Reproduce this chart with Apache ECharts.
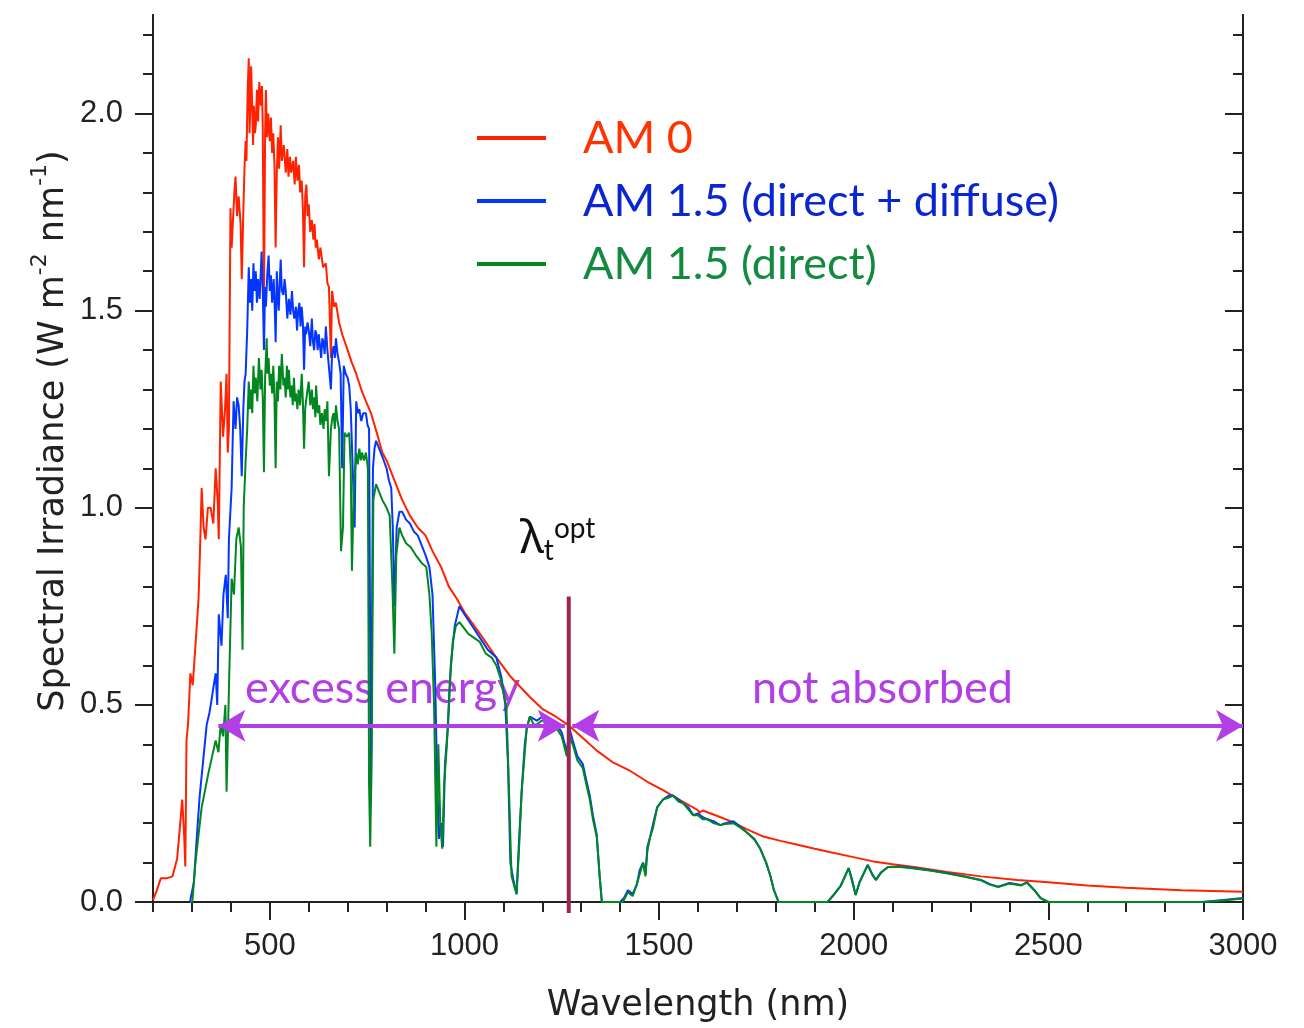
<!DOCTYPE html>
<html>
<head>
<meta charset="utf-8">
<script src="https://cdn.jsdelivr.net/npm/echarts@6/dist/echarts.min.js"></script>
<style>
  html, body { margin: 0; padding: 0; background: #fff; }
  #chart { width: 1304px; height: 1028px; }
</style>
</head>
<body>
<div id="chart"></div>
<script>
// [wavelength nm, irradiance W m-2 nm-1]
const am0 = [[200,0.005],[210,0.03],[220,0.06],[235,0.06],[250,0.065],[262,0.11],[270,0.20],[275,0.26],[280,0.17],[283,0.09],[286,0.41],[290,0.45],[296,0.58],[302,0.55],[309,0.65],[317,0.77],[321,0.90],[325,1.05],[330,0.95],[335,0.92],[341,1.0],[348,1.0],[355,0.96],[361,1.10],[366,1.02],[369,0.92],[374,1.32],[380,1.18],[385,1.25],[389,1.34],[392,1.14],[395,1.20],[399,1.76],[402,1.66],[405,1.72],[409,1.80],[412,1.84],[416,1.74],[420,1.79],[425,1.72],[428,1.58],[432,1.75],[435,1.86],[438,1.93],[440,1.88],[443,2.05],[446,2.14],[448,1.95],[450,2.02],[452,2.12],[454,2.05],[457,1.92],[459,2.02],[462,1.95],[464,1.97],[467,2.06],[470,1.98],[473,2.08],[477,2.02],[480,2.07],[482,1.96],[485,1.51],[488,1.95],[490,2.06],[493,1.94],[496,2.0],[500,1.93],[503,1.99],[506,1.90],[509,1.95],[512,1.87],[515,1.66],[518,1.85],[521,1.94],[524,1.86],[528,1.97],[531,1.88],[536,1.92],[541,1.85],[545,1.91],[548,1.84],[552,1.89],[555,1.85],[560,1.88],[564,1.82],[567,1.89],[571,1.83],[575,1.87],[578,1.80],[582,1.83],[585,1.76],[588,1.61],[591,1.79],[594,1.82],[597,1.74],[600,1.77],[604,1.70],[608,1.73],[612,1.68],[615,1.72],[618,1.66],[621,1.68],[626,1.63],[630,1.66],[637,1.61],[644,1.62],[648,1.57],[652,1.56],[657,1.38],[660,1.55],[665,1.51],[670,1.52],[678,1.47],[686,1.44],[693,1.42],[700,1.40],[710,1.37],[722,1.34],[735,1.30],[747,1.27],[760,1.24],[775,1.19],[789,1.14],[800,1.12],[820,1.07],[840,1.02],[860,0.98],[880,0.95],[900,0.93],[918,0.89],[940,0.85],[960,0.80],[980,0.77],[1000,0.735],[1040,0.68],[1082,0.62],[1120,0.57],[1168,0.52],[1200,0.49],[1235,0.47],[1268,0.448],[1300,0.42],[1340,0.384],[1380,0.355],[1425,0.333],[1470,0.305],[1510,0.284],[1555,0.258],[1598,0.234],[1605,0.227],[1612,0.232],[1640,0.222],[1683,0.205],[1725,0.185],[1768,0.166],[1812,0.155],[1856,0.145],[1900,0.135],[1941,0.126],[1984,0.117],[2050,0.103],[2100,0.096],[2155,0.089],[2240,0.076],[2327,0.065],[2420,0.056],[2500,0.05],[2600,0.042],[2700,0.036],[2843,0.03],[3000,0.026]];

const amGlobal = [[295,0],[300,0],[305,0.05],[312,0.157],[320,0.27],[330,0.37],[338,0.45],[345,0.48],[350,0.51],[356,0.55],[361,0.58],[365,0.50],[369,0.73],[376,0.65],[381,0.78],[387,0.83],[392,0.72],[395,0.92],[399,0.92],[402,1.05],[407,1.27],[412,1.20],[416,1.28],[420,1.26],[424,1.20],[428,1.08],[432,1.25],[435,1.32],[438,1.34],[442,1.45],[446,1.61],[449,1.52],[452,1.58],[455,1.50],[458,1.62],[461,1.55],[464,1.60],[467,1.52],[470,1.58],[474,1.53],[479,1.65],[482,1.55],[485,1.40],[488,1.56],[490,1.51],[494,1.60],[497,1.64],[500,1.55],[503,1.59],[506,1.52],[510,1.58],[513,1.50],[515,1.42],[518,1.60],[521,1.53],[523,1.50],[526,1.58],[528,1.63],[531,1.55],[535,1.54],[538,1.58],[541,1.55],[545,1.48],[549,1.53],[553,1.49],[557,1.55],[560,1.50],[563,1.48],[567,1.51],[570,1.45],[573,1.50],[576,1.52],[579,1.46],[582,1.51],[585,1.47],[588,1.35],[591,1.46],[593,1.44],[597,1.47],[600,1.45],[604,1.41],[608,1.48],[611,1.42],[614,1.40],[617,1.45],[620,1.44],[623,1.40],[626,1.44],[629,1.41],[632,1.38],[635,1.43],[638,1.42],[641,1.39],[644,1.46],[648,1.40],[652,1.40],[657,1.30],[660,1.39],[664,1.41],[667,1.38],[670,1.43],[674,1.39],[678,1.37],[682,1.34],[686,1.10],[690,1.36],[695,1.34],[700,1.33],[704,1.31],[708,1.25],[713,1.10],[718,0.95],[722,1.27],[726,1.24],[730,1.25],[735,1.22],[740,1.24],[747,1.24],[751,1.21],[755,1.20],[760,0.25],[765,1.10],[769,1.15],[773,1.17],[781,1.15],[789,1.13],[800,1.10],[806,1.07],[812,1.05],[816,0.95],[820,0.75],[826,0.95],[833,0.99],[840,0.99],[850,0.97],[860,0.96],[870,0.94],[880,0.93],[892,0.90],[900,0.88],[910,0.85],[918,0.78],[925,0.55],[930,0.30],[935,0.16],[940,0.20],[945,0.14],[950,0.35],[958,0.45],[965,0.60],[975,0.70],[987,0.75],[1000,0.73],[1020,0.70],[1040,0.67],[1060,0.64],[1082,0.62],[1095,0.57],[1105,0.50],[1112,0.35],[1118,0.10],[1125,0.06],[1134,0.02],[1140,0.15],[1147,0.28],[1155,0.40],[1160,0.44],[1168,0.47],[1186,0.46],[1200,0.47],[1211,0.47],[1225,0.46],[1237,0.45],[1250,0.43],[1263,0.38],[1270,0.44],[1278,0.41],[1290,0.37],[1304,0.35],[1315,0.30],[1322,0.27],[1330,0.22],[1340,0.17],[1347,0.07],[1353,0],[1400,0],[1410,0.01],[1420,0.03],[1432,0.02],[1443,0.045],[1450,0.08],[1459,0.10],[1465,0.07],[1470,0.14],[1477,0.165],[1485,0.20],[1495,0.24],[1510,0.26],[1525,0.27],[1536,0.27],[1550,0.26],[1562,0.25],[1575,0.24],[1588,0.22],[1600,0.225],[1612,0.215],[1624,0.21],[1640,0.205],[1657,0.195],[1670,0.20],[1691,0.205],[1710,0.19],[1727,0.175],[1745,0.16],[1760,0.135],[1775,0.10],[1786,0.066],[1795,0.03],[1807,0],[1933,0],[1950,0.02],[1966,0.04],[1987,0.086],[1995,0.06],[2005,0.018],[2015,0.05],[2036,0.094],[2048,0.07],[2057,0.056],[2070,0.075],[2088,0.089],[2120,0.09],[2155,0.086],[2200,0.08],[2242,0.073],[2285,0.065],[2327,0.056],[2350,0.045],[2371,0.039],[2400,0.048],[2430,0.043],[2445,0.05],[2464,0.03],[2480,0.01],[2500,0],[2897,0],[2950,0.005],[3000,0.01]];

const amDirect = [[295,0],[301,0],[309,0.10],[317,0.17],[325,0.24],[335,0.29],[343,0.33],[352,0.37],[361,0.41],[368,0.38],[374,0.45],[380,0.42],[386,0.50],[389,0.28],[393,0.45],[396,0.58],[402,0.82],[408,0.78],[414,0.92],[420,0.95],[426,0.90],[430,0.64],[433,1.00],[438,1.12],[442,1.20],[446,1.32],[449,1.25],[452,1.30],[455,1.24],[458,1.36],[461,1.29],[464,1.33],[468,1.27],[472,1.38],[476,1.30],[479,1.35],[482,1.28],[485,1.09],[488,1.33],[492,1.43],[494,1.34],[497,1.38],[500,1.31],[503,1.34],[506,1.29],[509,1.36],[512,1.28],[515,1.10],[518,1.32],[521,1.27],[524,1.36],[527,1.30],[531,1.39],[535,1.31],[538,1.33],[541,1.28],[544,1.36],[547,1.30],[549,1.35],[553,1.28],[556,1.31],[559,1.26],[562,1.33],[565,1.27],[567,1.29],[571,1.25],[574,1.30],[578,1.26],[582,1.34],[585,1.27],[588,1.15],[591,1.25],[593,1.27],[597,1.30],[600,1.32],[604,1.26],[608,1.30],[611,1.25],[614,1.28],[617,1.23],[619,1.31],[623,1.24],[627,1.26],[630,1.21],[634,1.24],[638,1.20],[641,1.25],[645,1.22],[648,1.27],[652,1.08],[657,1.20],[661,1.23],[664,1.24],[667,1.20],[670,1.26],[674,1.22],[678,1.20],[683,0.89],[688,0.95],[692,1.19],[698,1.18],[704,1.19],[708,1.10],[711,0.84],[716,1.05],[722,1.14],[726,1.11],[730,1.15],[734,1.12],[737,1.14],[742,1.12],[747,1.14],[752,1.10],[755,0.30],[758,0.14],[762,0.40],[766,1.02],[773,1.06],[781,1.04],[789,1.02],[800,1.00],[808,0.98],[815,0.80],[820,0.63],[825,0.88],[833,0.95],[840,0.93],[850,0.91],[862,0.90],[875,0.88],[890,0.86],[902,0.85],[910,0.78],[916,0.68],[922,0.50],[928,0.14],[933,0.40],[938,0.20],[943,0.135],[948,0.30],[955,0.40],[962,0.55],[970,0.66],[978,0.70],[987,0.71],[995,0.70],[1010,0.68],[1025,0.67],[1039,0.66],[1055,0.63],[1070,0.62],[1082,0.60],[1095,0.56],[1108,0.49],[1114,0.30],[1121,0.066],[1128,0.04],[1134,0.02],[1140,0.13],[1147,0.28],[1155,0.38],[1160,0.44],[1168,0.47],[1178,0.45],[1186,0.45],[1198,0.46],[1211,0.46],[1224,0.45],[1237,0.44],[1250,0.42],[1263,0.37],[1268,0.42],[1278,0.40],[1290,0.36],[1304,0.34],[1315,0.29],[1322,0.26],[1330,0.21],[1340,0.165],[1347,0.07],[1353,0],[1407,0],[1420,0.025],[1432,0.015],[1443,0.045],[1450,0.07],[1459,0.10],[1465,0.065],[1470,0.13],[1477,0.165],[1485,0.19],[1495,0.24],[1510,0.26],[1525,0.265],[1536,0.27],[1550,0.255],[1562,0.25],[1575,0.235],[1588,0.22],[1600,0.22],[1612,0.21],[1624,0.21],[1640,0.20],[1657,0.195],[1670,0.198],[1691,0.20],[1710,0.188],[1727,0.175],[1745,0.158],[1760,0.135],[1775,0.10],[1786,0.066],[1795,0.03],[1807,0],[1933,0],[1950,0.02],[1966,0.04],[1987,0.086],[1995,0.055],[2005,0.018],[2015,0.05],[2036,0.094],[2048,0.068],[2057,0.056],[2070,0.074],[2088,0.089],[2120,0.089],[2155,0.085],[2200,0.079],[2242,0.072],[2285,0.064],[2327,0.055],[2350,0.044],[2371,0.038],[2400,0.047],[2430,0.042],[2445,0.049],[2464,0.03],[2480,0.01],[2500,0],[2897,0],[2950,0.004],[3000,0.009]];

const seriesNames = ['AM 0', 'AM 1.5 (direct + diffuse)', 'AM 1.5 (direct)'];

const xMajorTicks = [500, 1000, 1500, 2000, 2500, 3000];
const xMinorTicks = [200, 300, 400, 600, 700, 800, 900, 1100, 1200, 1300, 1400, 1600, 1700, 1800, 1900, 2100, 2200, 2300, 2400, 2600, 2700, 2800, 2900];
const yMajorTicks = [0, 0.5, 1.0, 1.5, 2.0];
const yMinorTicks = [0.1, 0.2, 0.3, 0.4, 0.6, 0.7, 0.8, 0.9, 1.1, 1.2, 1.3, 1.4, 1.6, 1.7, 1.8, 1.9, 2.1, 2.2];

// band-gap marker and the two arrows
const lambdaOpt = 1268;
const lambdaLine = [-0.028, 0.775];
const arrowLevel = 0.447;
const excessRange = [368, 1258];
const notAbsRange = [1277, 3000];

const AXIS = '#222';
const PURPLE = '#b23ee6';

function xAxisOf(pos, ticks, len, inside, withLabels) {
  return {
    type: 'value', position: pos, min: 200, max: 3000,
    axisLine: { show: true, lineStyle: { color: AXIS, width: 2 } },
    axisTick: { show: true, inside: inside, length: len, customValues: ticks, lineStyle: { color: AXIS, width: 2 } },
    axisLabel: withLabels ? {
      show: true, customValues: ticks, margin: 29, color: AXIS,
      fontFamily: 'Liberation Sans', fontSize: 31,
      formatter: v => String(v)
    } : { show: false },
    splitLine: { show: false }
  };
}
function yAxisOf(pos, ticks, len, inside, withLabels) {
  return {
    type: 'value', position: pos, min: 0, max: 2.25,
    axisLine: { show: true, lineStyle: { color: AXIS, width: 2 } },
    axisTick: { show: true, inside: inside, length: len, customValues: ticks, lineStyle: { color: AXIS, width: 2 } },
    axisLabel: withLabels ? {
      show: true, customValues: ticks, margin: 30, color: AXIS,
      fontFamily: 'Liberation Sans', fontSize: 31,
      formatter: v => v.toFixed(1)
    } : { show: false },
    splitLine: { show: false }
  };
}

const xMain = xAxisOf('bottom', xMajorTicks, 18, false, true);
xMain.name = 'Wavelength (nm)';
xMain.nameLocation = 'middle';
xMain.nameGap = 86;
xMain.nameTextStyle = { fontFamily: 'DejaVu Sans', fontSize: 35, color: AXIS };

const chart = echarts.init(document.getElementById('chart'));
chart.setOption({
  animation: false,
  backgroundColor: '#fff',
  grid: { left: 153, right: 61, top: 15, bottom: 126 },
  xAxis: [
    xMain,
    xAxisOf('bottom', xMinorTicks, 10, false, false),
    xAxisOf('top', xMajorTicks, 18, true, false),
    xAxisOf('top', xMinorTicks, 10, true, false)
  ],
  yAxis: [
    yAxisOf('left', yMajorTicks, 18, false, true),
    yAxisOf('left', yMinorTicks, 10, false, false),
    yAxisOf('right', yMajorTicks, 18, true, false),
    yAxisOf('right', yMinorTicks, 10, true, false)
  ],
  legend: {
    orient: 'vertical', left: 472, top: 110, itemGap: 17,
    icon: 'rect', itemWidth: 69, itemHeight: 4,
    textStyle: { fontFamily: 'Lato', fontSize: 45, lineHeight: 46, padding: [0, 0, 0, 32] },
    data: [
      { name: seriesNames[0], textStyle: { color: '#ff3300' } },
      { name: seriesNames[1], textStyle: { color: '#0a26d0' } },
      { name: seriesNames[2], textStyle: { color: '#138a40' } }
    ]
  },
  series: [
    {
      name: seriesNames[0], type: 'line', data: am0,
      showSymbol: false, symbol: 'none', color: '#ff2200',
      lineStyle: { width: 2, color: '#ff2200' }
    },
    {
      name: seriesNames[1], type: 'line', data: amGlobal,
      showSymbol: false, symbol: 'none', color: '#0536ff',
      lineStyle: { width: 2, color: '#0536ff' }
    },
    {
      name: seriesNames[2], type: 'line', data: amDirect,
      showSymbol: false, symbol: 'none', color: '#00871f',
      lineStyle: { width: 2, color: '#00871f' }
    },
    {
      name: 'lambda', type: 'line', clip: false, silent: true,
      data: lambdaLine.map(v => [lambdaOpt, v]),
      symbol: 'none', lineStyle: { width: 4, color: '#9b2450' },
      markLine: {
        silent: true, symbol: ['arrow', 'arrow'], symbolSize: [24, 27],
        label: { show: false },
        lineStyle: { color: PURPLE, width: 4, type: 'solid' },
        data: [
          [{ coord: [excessRange[0], arrowLevel] }, { coord: [excessRange[1], arrowLevel] }],
          [{ coord: [notAbsRange[0], arrowLevel] }, { coord: [notAbsRange[1], arrowLevel] }]
        ]
      }
    }
  ],
  graphic: [
    {
      type: 'text', x: 50, y: 431, rotation: Math.PI / 2,
      style: {
        text: '{n|Spectral Irradiance (W m}{s|-2}{n| nm}{s|-1}{n|)}',
        align: 'center', verticalAlign: 'middle',
        rich: {
          n: { fontFamily: 'DejaVu Sans', fontSize: 35, fill: AXIS, lineHeight: 42, verticalAlign: 'bottom' },
          s: { fontFamily: 'DejaVu Sans', fontSize: 22, fill: AXIS, lineHeight: 42, verticalAlign: 'top' }
        }
      }
    },
    {
      type: 'text', x: 520, y: 540,
      style: {
        text: '{l|λ}{t|t}{o|opt}',
        align: 'left', verticalAlign: 'middle',
        rich: {
          l: { fontFamily: 'Noto Sans', fontSize: 46, fill: '#111', lineHeight: 50, verticalAlign: 'middle' },
          t: { fontFamily: 'Lato', fontSize: 28, fill: '#111', lineHeight: 50, verticalAlign: 'bottom' },
          o: { fontFamily: 'Lato', fontSize: 28, fill: '#111', lineHeight: 50, verticalAlign: 'top' }
        }
      }
    },
    {
      type: 'text', x: 245, y: 688,
      style: { text: 'excess energy', fontFamily: 'Lato', fontSize: 45, fill: PURPLE, align: 'left', verticalAlign: 'middle' }
    },
    {
      type: 'text', x: 752, y: 688,
      style: { text: 'not absorbed', fontFamily: 'Lato', fontSize: 45, fill: PURPLE, align: 'left', verticalAlign: 'middle' }
    }
  ]
});
</script>
</body>
</html>
